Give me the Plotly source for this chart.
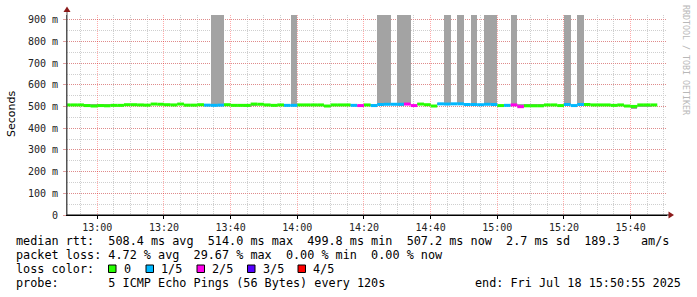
import plotly.graph_objects as go
from datetime import datetime, timedelta

# ---------------- data ----------------
START = datetime(2025, 7, 18, 12, 50, 0)   # first 120 s slot start
STEP_S = 120
VIEW_START = "2025-07-18 12:50:55"
VIEW_END = "2025-07-18 15:50:55"

# median rtt per 120 s slot (ms)
median_ms = [
    508, 508, 508, 505, 503, 505, 504, 506, 506, 509,
    509, 508, 507, 512, 511, 509, 508, 512, 507, 507,
    509, 507, 506, 507, 509, 506, 506, 506, 512, 511,
    508, 506, 508, 506, 506, 508, 508, 508, 508, 503,
    508, 508, 508, 506, 505, 508, 505, 510, 511, 511,
    511, 512, 505, 512, 509, 503, 513, 512, 513, 513,
    510, 510, 509, 511, 510, 505, 506, 508, 500, 504,
    504, 504, 508, 508, 505, 510, 505, 510, 510, 508,
    508, 508, 506, 508, 503, 501, 508, 508, 508,
]
# lost pings out of 5 per slot
loss_count = [
    0, 0, 0, 0, 0, 0, 0, 0, 0, 0,
    0, 0, 0, 0, 0, 0, 0, 0, 0, 0,
    0, 1, 1, 1, 0, 0, 0, 0, 0, 0,
    0, 0, 0, 1, 1, 0, 0, 0, 0, 0,
    0, 0, 0, 1, 2, 0, 1, 1, 1, 1,
    1, 2, 2, 0, 0, 0, 1, 1, 1, 1,
    1, 1, 1, 1, 1, 0, 1, 2, 2, 0,
    0, 0, 0, 0, 0, 1, 1, 1, 0, 0,
    0, 0, 0, 0, 0, 0, 0, 0, 0,
]
# smoke (spread of the pings) per slot, ms
smoke_lo = [
    507, 507, 507, 503, 497, 503, 501, 505, 505, 508,
    508, 506, 506, 511, 510, 508, 507, 511, 506, 506,
    508, 506, 503, 504, 508, 504, 504, 503, 507, 510,
    507, 505, 507, 505, 503, 507, 507, 507, 507, 502,
    507, 507, 507, 505, 504, 507, 504, 507, 508, 510,
    502, 508, 504, 511, 508, 502, 512, 509, 512, 510,
    509, 507, 508, 508, 503, 504, 505, 505, 499, 503,
    503, 503, 507, 507, 503, 507, 504, 507, 509, 507,
    507, 507, 505, 507, 500, 490, 503, 503, 507,
]
smoke_hi = [
    509, 509, 509, 511, 511, 511, 511, 507, 507, 510,
    510, 512, 508, 513, 512, 510, 509, 513, 508, 508,
    510, 508, 1200, 1200, 510, 511, 511, 510, 513, 512,
    509, 507, 509, 507, 1200, 509, 509, 509, 509, 504,
    509, 509, 509, 511, 506, 509, 512, 1200, 1200, 512,
    1200, 1200, 506, 513, 510, 504, 514, 1200, 514, 1200,
    511, 1200, 510, 1200, 1200, 506, 507, 1200, 510, 510,
    510, 510, 509, 509, 508, 1200, 506, 1200, 511, 509,
    509, 509, 511, 509, 505, 503, 508, 506, 509,
]

loss_colors = ["#26ff00", "#00b8ff", "#ff00ea", "#5500ff", "#ff0000"]
loss_labels = ["0", "1/5", "2/5", "3/5", "4/5"]

y_tickvals = [0, 100, 200, 300, 400, 500, 600, 700, 800, 900]
y_ticktext = ["0", "100 m", "200 m", "300 m", "400 m", "500 m",
              "600 m", "700 m", "800 m", "900 m"]
Y_MAX = 923

stats_lines = [
    "median rtt:  508.4 ms avg  514.0 ms max  499.8 ms min  507.2 ms now  2.7 ms sd  189.3   am/s",
    "packet loss: 4.72 % avg  29.67 % max  0.00 % min  0.00 % now",
]
probe_text = "probe:       5 ICMP Echo Pings (56 Bytes) every 120s"
end_text = "end: Fri Jul 18 15:50:55 2025"

# ---------------- geometry helpers ----------------
W, H = 697, 297
L, R, T, B = 67, 30, 15, 82
PW, PH = W - L - R, H - T - B


def px(x):
    return (x - L) / PW


def py(y):
    return (H - B - y) / PH


fmt = "%Y-%m-%d %H:%M:%S"
starts = [START + timedelta(seconds=STEP_S * i) for i in range(len(median_ms))]
ends = [s + timedelta(seconds=STEP_S) for s in starts]
centers = [s + timedelta(seconds=STEP_S / 2) for s in starts]

fig = go.Figure()

# smoke
fig.add_trace(go.Bar(
    x=[c.strftime(fmt) for c in centers],
    base=smoke_lo,
    y=[h - l for h, l in zip(smoke_hi, smoke_lo)],
    width=STEP_S * 1000,
    marker=dict(color="#a3a3a3", line=dict(width=0)),
    hoverinfo="skip",
))

# median coloured by loss
for lvl, col in enumerate(loss_colors):
    xs, ys = [], []
    for s, e, m, lc in zip(starts, ends, median_ms, loss_count):
        if lc == lvl:
            xs += [s.strftime(fmt), e.strftime(fmt), None]
            ys += [m, m, None]
    if xs:
        fig.add_trace(go.Scatter(x=xs, y=ys, mode="lines",
                                 line=dict(color=col, width=3),
                                 hoverinfo="skip"))

mono = "DejaVu Sans Mono"
major_grid = "rgba(255,0,0,0.33)"
minor_grid = "#cfcfcf"

fig.update_layout(
    width=W, height=H,
    margin=dict(l=L, r=R, t=T, b=B, pad=0),
    paper_bgcolor="white", plot_bgcolor="white",
    showlegend=False, barmode="overlay", bargap=0,
    xaxis=dict(
        type="date", range=[VIEW_START, VIEW_END],
        tick0="2025-07-18 13:00:00", dtick=20 * 60 * 1000,
        tickformat="%H:%M",
        showgrid=True, gridcolor=major_grid, griddash="1px,1px", gridwidth=1,
        minor=dict(dtick=5 * 60 * 1000, tick0="2025-07-18 13:00:00",
                   showgrid=True, gridcolor=minor_grid, griddash="1px,1px",
                   ticks=""),
        showline=True, linecolor="black", linewidth=1,
        ticks="outside", ticklen=3, tickcolor="black",
        tickfont=dict(family=mono, size=10, color="#222"),
        zeroline=False, fixedrange=True,
    ),
    yaxis=dict(
        range=[0, Y_MAX],
        tickvals=y_tickvals, ticktext=y_ticktext,
        showgrid=True, gridcolor=major_grid, griddash="1px,1px", gridwidth=1,
        minor=dict(dtick=50, tick0=0, showgrid=True, gridcolor=minor_grid,
                   griddash="1px,1px", ticks=""),
        showline=True, linecolor="#555", linewidth=1,
        ticks="outside", ticklen=3, tickcolor="#e0a0a0",
        ticklabelstandoff=3,
        tickfont=dict(family=mono, size=10, color="#222"),
        zeroline=False, fixedrange=True,
    ),
)

shapes = []
# axis extensions + arrowheads
shapes.append(dict(type="line", xref="paper", yref="paper",
                   x0=px(67), x1=px(67), y0=py(215), y1=py(11),
                   line=dict(color="#555", width=1)))
shapes.append(dict(type="path", xref="paper", yref="paper",
                   path=f"M {px(67)},{py(6.5)} L {px(63.5)},{py(12)} L {px(70.5)},{py(12)} Z",
                   fillcolor="#8b1a1a", line=dict(width=0)))
shapes.append(dict(type="line", xref="paper", yref="paper",
                   x0=px(67), x1=px(669), y0=py(215), y1=py(215),
                   line=dict(color="black", width=1)))
shapes.append(dict(type="path", xref="paper", yref="paper",
                   path=f"M {px(674)},{py(215)} L {px(668.5)},{py(211.5)} L {px(668.5)},{py(218.5)} Z",
                   fillcolor="#8b1a1a", line=dict(width=0)))

annotations = []


def txt(text, x, y, size=11.8, color="#000", family=mono, xanchor="left", angle=0):
    annotations.append(dict(
        text=text, x=px(x), y=py(y), xref="paper", yref="paper",
        xanchor=xanchor, yanchor="middle", showarrow=False,
        textangle=angle, borderpad=0, borderwidth=0,
        font=dict(family=family, size=size, color=color),
    ))


txt(stats_lines[0].replace(" ", "&nbsp;"), 16, 241)
txt(stats_lines[1].replace(" ", "&nbsp;"), 16, 255)
txt("loss&nbsp;color:", 16, 269)
box_x = [108.5, 146, 197, 247.5, 298]
for bx, col, lab in zip(box_x, loss_colors, loss_labels):
    shapes.append(dict(type="rect", xref="paper", yref="paper",
                       x0=px(bx), x1=px(bx + 7.5), y0=py(265), y1=py(272.5),
                       fillcolor=col, line=dict(color="black", width=1)))
    txt(lab, bx + 15, 269)
txt(probe_text.replace(" ", "&nbsp;"), 16, 283)
txt(end_text.replace(" ", "&nbsp;"), 681, 283, xanchor="right")
txt("Seconds", 11, 114, size=11, family="DejaVu Sans", angle=-90, xanchor="center")
txt("RRDTOOL / TOBI OETIKER".replace(" ", "&nbsp;"), 686, 60, size=8.3,
    color="#b8b8b8", angle=90, xanchor="center")

fig.update_layout(shapes=shapes, annotations=annotations)

fig.write_html("out.html")
